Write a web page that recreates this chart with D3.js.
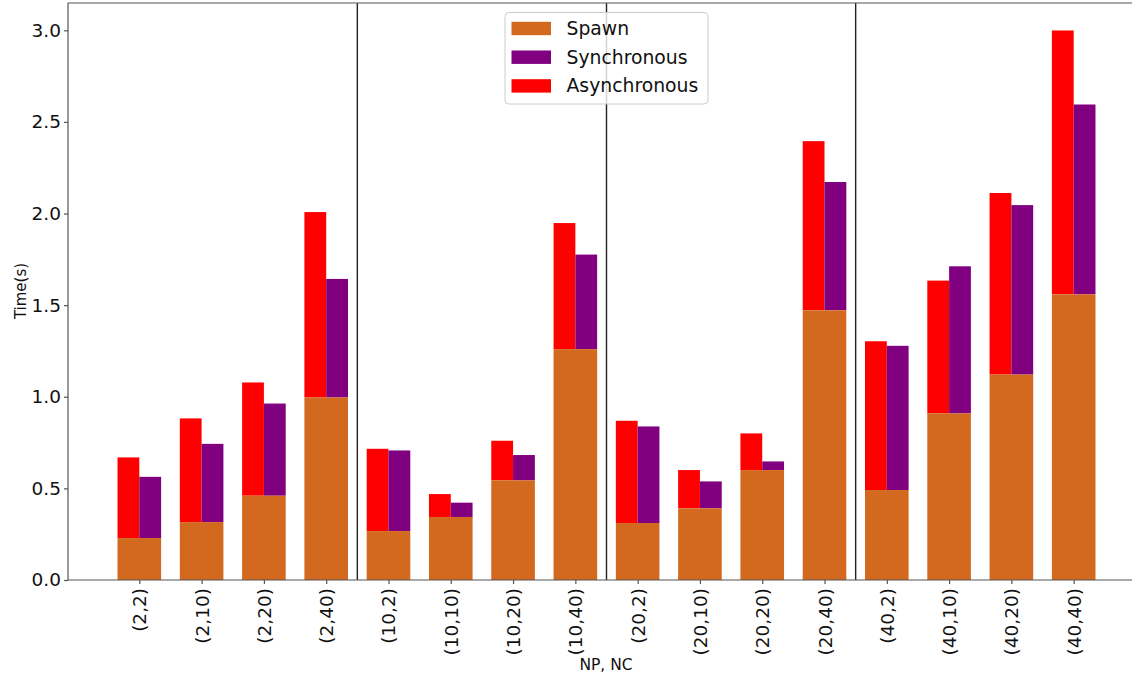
<!DOCTYPE html>
<html>
<head>
<meta charset="utf-8">
<script src="https://cdn.jsdelivr.net/npm/d3@7"></script>
<style>
  html, body { margin: 0; padding: 0; background: #fff; }
  svg { display: block; font-family: "DejaVu Sans", sans-serif; }
</style>
</head>
<body>
<svg id="chart" width="1132" height="675"></svg>
<script>
// (NP, NC) configurations
const categories = ["(2,2)", "(2,10)", "(2,20)", "(2,40)",
                    "(10,2)", "(10,10)", "(10,20)", "(10,40)",
                    "(20,2)", "(20,10)", "(20,20)", "(20,40)",
                    "(40,2)", "(40,10)", "(40,20)", "(40,40)"];

// Spawn time (s) — base of each stack
const spawn = [0.229, 0.316, 0.460, 0.996,
               0.267, 0.344, 0.544, 1.260,
               0.311, 0.391, 0.600, 1.472,
               0.491, 0.909, 1.121, 1.559];

// Total time (s) with synchronous communication
const synchronous = [0.563, 0.743, 0.963, 1.643,
                     0.707, 0.422, 0.682, 1.776,
                     0.838, 0.538, 0.647, 2.172,
                     1.278, 1.712, 2.046, 2.595];

// Total time (s) with asynchronous communication
const asynchronous = [0.669, 0.882, 1.078, 2.008,
                      0.716, 0.469, 0.760, 1.948,
                      0.869, 0.600, 0.800, 2.395,
                      1.303, 1.634, 2.112, 2.999];

const yTicks = [0.0, 0.5, 1.0, 1.5, 2.0, 2.5, 3.0];
const groupBreaks = [3.5, 7.5, 11.5];

const legendItems = [
  { label: "Spawn", color: "#D2691E" },
  { label: "Synchronous", color: "#800080" },
  { label: "Asynchronous", color: "#FF0000" }
];

const svg = d3.select("#chart");
const plotLeft = 68, plotTop = 3, plotBottom = 580;
const textColor = "#111";

const x = d3.scaleLinear().domain([-1.145, 16.145]).range([plotLeft, 1145]);
const y = d3.scaleLinear().domain([0, 1.05 * d3.max(asynchronous)]).range([plotBottom, plotTop]);

const half = 0.35;
const plot = svg.append("g");

// Asynchronous (left half) on top of spawn
plot.selectAll("rect.async").data(categories).join("rect")
  .attr("class", "async")
  .attr("x", (d, i) => x(i - half))
  .attr("width", (d, i) => x(i) - x(i - half))
  .attr("y", (d, i) => y(asynchronous[i]))
  .attr("height", (d, i) => y(spawn[i]) - y(asynchronous[i]))
  .attr("fill", "#FF0000");

// Synchronous (right half) on top of spawn
plot.selectAll("rect.sync").data(categories).join("rect")
  .attr("class", "sync")
  .attr("x", (d, i) => x(i))
  .attr("width", (d, i) => x(i + half) - x(i))
  .attr("y", (d, i) => y(synchronous[i]))
  .attr("height", (d, i) => y(spawn[i]) - y(synchronous[i]))
  .attr("fill", "#800080");

// Spawn (full width)
plot.selectAll("rect.spawn").data(categories).join("rect")
  .attr("class", "spawn")
  .attr("x", (d, i) => x(i - half))
  .attr("width", (d, i) => x(i + half) - x(i - half))
  .attr("y", (d, i) => y(spawn[i]))
  .attr("height", (d, i) => y(0) - y(spawn[i]))
  .attr("fill", "#D2691E");

// Group separators
plot.selectAll("line.sep").data(groupBreaks).join("line")
  .attr("class", "sep")
  .attr("x1", d => x(d)).attr("x2", d => x(d))
  .attr("y1", plotTop).attr("y2", plotBottom)
  .attr("stroke", "#222").attr("stroke-width", 1.4);

// Spines
svg.append("line").attr("x1", plotLeft).attr("x2", 1132).attr("y1", plotTop).attr("y2", plotTop)
  .attr("stroke", "#555").attr("stroke-width", 1.2);
svg.append("line").attr("x1", plotLeft).attr("x2", plotLeft).attr("y1", plotTop).attr("y2", plotBottom)
  .attr("stroke", "#555").attr("stroke-width", 1.2);

// Y axis
const yAxis = d3.axisLeft(y).tickValues(yTicks).tickFormat(d3.format(".1f"))
  .tickSize(4).tickPadding(3);
const gy = svg.append("g").attr("transform", `translate(${plotLeft},0)`).call(yAxis);
gy.select(".domain").remove();
gy.selectAll(".tick line").attr("stroke", "#555").attr("stroke-width", 1.2);
gy.selectAll(".tick text").attr("font-size", 18.5).attr("fill", textColor)
  .attr("font-family", "DejaVu Sans, sans-serif");

// X axis
const xAxis = d3.axisBottom(x).tickValues(d3.range(categories.length))
  .tickFormat(i => categories[i]).tickSize(4).tickPadding(4);
const gx = svg.append("g").attr("transform", `translate(0,${plotBottom})`).call(xAxis);
gx.select(".domain").remove();
svg.append("line").attr("x1", plotLeft).attr("x2", 1132).attr("y1", plotBottom).attr("y2", plotBottom)
  .attr("stroke", "#555").attr("stroke-width", 1.2);
gx.selectAll(".tick line").attr("stroke", "#555").attr("stroke-width", 1.2);
gx.selectAll(".tick text")
  .attr("font-size", 18.5).attr("fill", textColor)
  .attr("font-family", "DejaVu Sans, sans-serif")
  .attr("transform", "rotate(-90)")
  .attr("text-anchor", "end")
  .attr("x", -8).attr("y", 0).attr("dy", "0.35em");

// Axis titles
svg.append("text").attr("x", 606).attr("y", 670).attr("text-anchor", "middle")
  .attr("font-size", 15.5).attr("fill", textColor).text("NP, NC");
svg.append("text").attr("transform", "translate(26,291) rotate(-90)")
  .attr("text-anchor", "middle").attr("font-size", 15).attr("fill", textColor).text("Time(s)");

// Legend
const lg = svg.append("g");
lg.append("rect").attr("x", 505).attr("y", 12.5).attr("width", 203).attr("height", 91.5)
  .attr("rx", 4).attr("fill", "#fff").attr("fill-opacity", 0.8)
  .attr("stroke", "#ccc").attr("stroke-width", 1);
const li = lg.selectAll("g.item").data(legendItems).join("g")
  .attr("class", "item")
  .attr("transform", (d, i) => `translate(0,${28.5 + i * 28.7})`);
li.append("rect").attr("x", 511.5).attr("y", -6.7).attr("width", 39.5).attr("height", 13.4)
  .attr("fill", d => d.color);
li.append("text").attr("x", 566.5).attr("y", 0).attr("dy", "0.35em")
  .attr("font-size", 18.8).attr("fill", textColor).text(d => d.label);
</script>
</body>
</html>
